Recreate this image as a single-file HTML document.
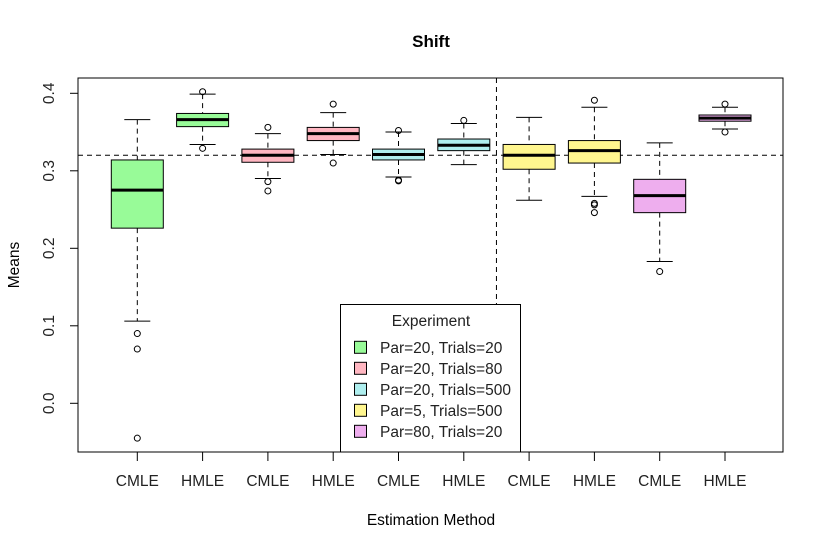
<!DOCTYPE html>
<html><head><meta charset="utf-8"><style>
body{margin:0;background:#fff}
svg{display:block;font-family:"Liberation Sans",Arial,sans-serif}
</style></head><body>
<svg id="chart" width="824" height="550" viewBox="0 0 824 550">
<rect width="824" height="550" fill="#fff"/>
<text x="431" y="47" text-anchor="middle" font-size="17" font-weight="bold">Shift</text>
<text x="431" y="525" text-anchor="middle" font-size="15.5">Estimation Method</text>
<text transform="translate(19,265) rotate(-90)" text-anchor="middle" font-size="15.5">Means</text>
<g id="plot"></g>
</svg>
<script>
const categories=["CMLE","HMLE","CMLE","HMLE","CMLE","HMLE","CMLE","HMLE","CMLE","HMLE"];
const groupIdx=[0,0,1,1,2,2,3,3,4,4];
const lowerWhisker=[0.106,0.334,0.290,0.321,0.292,0.308,0.262,0.267,0.183,0.354];
const q1=[0.226,0.357,0.311,0.339,0.314,0.326,0.302,0.310,0.246,0.364];
const median=[0.275,0.366,0.320,0.348,0.321,0.333,0.320,0.326,0.268,0.368];
const q3=[0.314,0.374,0.328,0.356,0.328,0.341,0.334,0.339,0.289,0.372];
const upperWhisker=[0.366,0.399,0.348,0.375,0.350,0.361,0.369,0.382,0.336,0.382];
const outliers=[[0.09,0.07,-0.045],[0.402,0.329],[0.356,0.286,0.274],[0.386,0.310],[0.352,0.287,0.288],[0.365],[],[0.391,0.258,0.256,0.246],[0.170],[0.386,0.350]];
const legendLabels=["Par=20, Trials=20","Par=20, Trials=80","Par=20, Trials=500","Par=5, Trials=500","Par=80, Trials=20"];
const legendColors=["#98FB98","#FFB6C1","#AEEEEE","#FFF68F","#EEAEEE"];
const yTicks=[0.0,0.1,0.2,0.3,0.4];
const yTickLabels=["0.0","0.1","0.2","0.3","0.4"];
const refLine=0.32;
const splitPos=6.5;

const NS="http://www.w3.org/2000/svg";
const L=78,R=783,T=78,B=452;
const y=v=>403.3-v*775;
const x=i=>137.3+(i-1)*65.3;
const g=document.getElementById('plot');
function mk(tag,a,parent){const e=document.createElementNS(NS,tag);for(const k in a)e.setAttribute(k,a[k]);(parent||g).appendChild(e);return e;}

let hl=mk('line',{x1:L,x2:R,y1:y(refLine),y2:y(refLine),stroke:'#000','stroke-dasharray':'5,4'});


let vl=mk('line',{x1:x(splitPos),x2:x(splitPos),y1:T,y2:B,stroke:'#000','stroke-dasharray':'5,4'});



const hw=26, cap=13;
for(let i=0;i<categories.length;i++){
  const cx=x(i+1), col=legendColors[groupIdx[i]];
  const bg=mk('g',{});
  
  
  mk('line',{x1:cx,x2:cx,y1:y(upperWhisker[i]),y2:y(q3[i]),stroke:'#000','stroke-dasharray':'5,4'},bg);
  mk('line',{x1:cx,x2:cx,y1:y(q1[i]),y2:y(lowerWhisker[i]),stroke:'#000','stroke-dasharray':'5,4'},bg);
  mk('line',{x1:cx-cap,x2:cx+cap,y1:y(upperWhisker[i]),y2:y(upperWhisker[i]),stroke:'#000'},bg);
  mk('line',{x1:cx-cap,x2:cx+cap,y1:y(lowerWhisker[i]),y2:y(lowerWhisker[i]),stroke:'#000'},bg);
  mk('rect',{x:cx-hw,y:y(q3[i]),width:2*hw,height:y(q1[i])-y(q3[i]),fill:col,stroke:'#000'},bg);
  mk('line',{x1:cx-hw,x2:cx+hw,y1:y(median[i]),y2:y(median[i]),stroke:'#000','stroke-width':3},bg);
  outliers[i].forEach(o=>{mk('circle',{cx:cx,cy:y(o),r:3,fill:'none',stroke:'#000'},bg);});
  const t=mk('text',{x:cx,y:486,'text-anchor':'middle','font-size':15.5,fill:'#222'});
  t.textContent=categories[i];
  
  
  mk('line',{x1:cx,x2:cx,y1:B,y2:B+9,stroke:'#000'});
}
yTicks.forEach((v,k)=>{
  mk('line',{x1:L,x2:L-8,y1:y(v),y2:y(v),stroke:'#000'});
  const t=mk('text',{transform:`translate(54,${y(v)}) rotate(-90)`,'text-anchor':'middle','font-size':15.5,fill:'#222'});
  t.textContent=yTickLabels[k];
  
  
});
const lg=mk('g',{});


mk('rect',{x:340.5,y:304.5,width:180,height:147.5,fill:'#fff',stroke:'#000'},lg);
const lt=mk('text',{x:431,y:326,'text-anchor':'middle','font-size':15.5,fill:'#222'},lg);
lt.textContent='Experiment';
legendLabels.forEach((s,k)=>{
  const e=mk('g',{},lg);
  
  
  const cy=347.3+k*21;
  mk('rect',{x:354.5,y:cy-6,width:12,height:12,fill:legendColors[k],stroke:'#000'},e);
  const t=mk('text',{x:380,y:cy+5.5,'font-size':15.5,fill:'#222'},e);
  t.textContent=s;
});
const fr=mk('rect',{x:L,y:T,width:R-L,height:B-T,fill:'none',stroke:'#000'});


</script>
</body></html>
